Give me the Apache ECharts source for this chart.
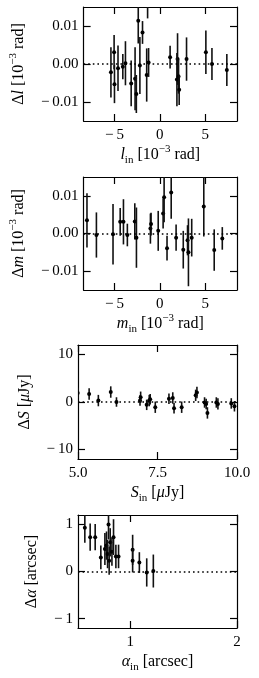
<!DOCTYPE html>
<html><head><meta charset="utf-8">
<script src="https://cdn.jsdelivr.net/npm/echarts@6/dist/echarts.min.js"></script>
<style>html,body{margin:0;padding:0;background:#fff}#c{width:259px;height:678px}</style>
</head><body><div id="c"></div>
<script>
// Panel 1: Δl vs l_in
const p1X = [-5.39,-5.04,-5.0,-4.61,-4.08,-3.79,-3.16,-2.73,-2.59,-2.38,-1.91,-2.2,-1.45,-1.24,-1.35,1.13,1.95,1.88,2.06,2.13,2.94,5.07,5.74,7.38];
const p1Y = [-0.0022,0.0031,-0.0053,-0.0011,-0.0007,0.0002,-0.0051,-0.0039,-0.0079,0.0114,0.0083,-0.0004,-0.0029,0.0004,0.019,0.0018,0.0013,-0.0041,-0.0033,-0.0068,0.0013,0.0031,0.0,-0.0016];
const p1E = [0.0066,0.0045,0.005,0.006,0.0033,0.0058,0.006,0.0083,0.005,0.006,0.003,0.0075,0.007,0.0038,0.007,0.003,0.0068,0.007,0.0045,0.004,0.0057,0.0057,0.0042,0.0042];
// Panel 2: Δm vs m_in
const p2X = [-8.03,-6.99,-5.16,-4.37,-4.01,-3.58,-2.76,-2.58,-1.04,-0.97,-0.18,0.36,0.47,1.25,0.79,1.79,2.58,3.05,3.15,3.51,4.84,5.99,6.88];
const p2Y = [0.0035,-0.0004,-0.0002,0.0031,0.0031,-0.0004,0.0032,-0.0011,0.0013,0.0025,0.0007,0.0053,0.0096,0.0109,-0.0039,-0.0011,-0.0043,-0.0018,-0.005,-0.0011,0.0072,-0.0044,-0.0013];
const p2E = [0.0072,0.006,0.008,0.0037,0.006,0.003,0.0048,0.008,0.004,0.003,0.0053,0.004,0.0066,0.007,0.0033,0.0035,0.005,0.004,0.009,0.005,0.008,0.0055,0.003];
// Panel 3: ΔS vs S_in
const p3X = [4.99,5.35,5.64,6.03,6.21,6.95,6.97,7.16,7.24,7.27,7.43,7.86,7.98,8.02,8.26,8.7,8.74,8.98,9.03,9.07,9.35,9.4,9.82,9.92];
const p3Y = [1.9,1.7,0.3,2.1,0.0,0.3,1.0,-0.6,0.3,0.6,-1.1,0.7,0.85,-1.3,-1.1,1.4,2.0,-0.1,-0.4,-2.3,-0.1,-0.4,-0.3,-0.9];
const p3E = [1.1,1.2,1.2,1.2,1.0,1.1,1.2,1.1,1.2,1.1,1.2,1.1,1.2,1.1,1.2,1.2,1.2,1.1,1.1,1.2,1.1,1.2,1.1,1.1];
// Panel 4: Δα vs α_in
const p4X = [0.574,0.624,0.671,0.724,0.762,0.777,0.787,0.796,0.802,0.812,0.828,0.843,0.865,0.89,1.022,1.022,1.085,1.154,1.216];
const p4Y = [0.93,0.73,0.73,0.30,0.48,0.55,0.37,1.0,0.23,0.62,0.42,0.73,0.32,0.32,0.46,0.23,0.19,-0.02,0.01];
const p4E = [0.32,0.29,0.28,0.25,0.34,0.3,0.3,0.32,0.3,0.3,0.3,0.38,0.25,0.25,0.32,0.25,0.22,0.3,0.35];

const xTicks = [[-5,0,5],[-5,0,5],[5,7.5,10],[1,2]];
const yTicks = [[-0.01,0,0.01],[-0.01,0,0.01],[-10,0,10],[-1,0,1]];
const xRanges = [[-8.4,8.5],[-8.4,8.5],[5,10],[0.51,2.0]];
const yRanges = [[-0.015,0.015],[-0.015,0.015],[-12,12],[-1.2,1.2]];
const xNames = ['{it|l}{sub|in} [10{sup|−3} rad]','{it|m}{sub|in} [10{sup|−3} rad]','{it|S}{sub|in} [{it|μ}Jy]','{it|α}{sub|in} [arcsec]'];
const yNames = ['Δ{it|l} [10{sup|−3} rad]','Δ{it|m} [10{sup|−3} rad]','Δ{it|S} [{it|μ}Jy]','Δ{it|α} [arcsec]'];
const xFmt = [v=>fmtInt(v), v=>fmtInt(v), v=>fmtNum(v,1), v=>fmtInt(v)];
const yFmt = [v=>fmtNum(v,2), v=>fmtNum(v,2), v=>fmtInt(v), v=>fmtInt(v)];
const panels = [[p1X,p1Y,p1E],[p2X,p2Y,p2E],[p3X,p3Y,p3E],[p4X,p4Y,p4E]];

function fmtNum(v,d){ return (v<0?'−\u2009':'') + Math.abs(v).toFixed(d); }
function fmtInt(v){ return (v<0?'−\u2009':'') + Math.abs(Math.round(v)); }

const FONT = 'Liberation Serif';
const gridTops = [7,177,345,515];
const gridH = [114,113,114,113];
const yGaps = [49,49,35,22];
const rich = {
  it:{fontStyle:'italic',fontFamily:FONT,fontSize:16,color:'#000'},
  sub:{fontFamily:FONT,fontSize:11,verticalAlign:'bottom',lineHeight:16,color:'#000'},
  sup:{fontFamily:FONT,fontSize:11,verticalAlign:'top',lineHeight:13,color:'#000'}
};

const grid=[], xAxis=[], yAxis=[], series=[];
for(let i=0;i<4;i++){
  grid.push({left:78, width:159, top:gridTops[i], height:gridH[i], show:false});
  const common = {type:'value', gridIndex:i, splitLine:{show:false},
    axisLine:{show:true,onZero:false,lineStyle:{color:'#000',width:1.2}},
    axisTick:{show:true,inside:true,length:7,lineStyle:{color:'#000',width:1.2}}};
  xAxis.push(Object.assign({}, common, {position:'bottom', min:xRanges[i][0], max:xRanges[i][1],
    axisTick:Object.assign({},common.axisTick,{customValues:xTicks[i]}),
    axisLabel:{show:true, customValues:xTicks[i], formatter:xFmt[i], margin:7, fontFamily:FONT, fontSize:15, color:'#000'},
    name:xNames[i], nameLocation:'middle', nameGap:23,
    nameTextStyle:{fontFamily:FONT,fontSize:16,color:'#000',lineHeight:22,rich:rich}}));
  xAxis.push(Object.assign({}, common, {position:'top', min:xRanges[i][0], max:xRanges[i][1],
    axisTick:Object.assign({},common.axisTick,{customValues:xTicks[i]}),
    axisLabel:{show:false}}));
  yAxis.push(Object.assign({}, common, {position:'left', min:yRanges[i][0], max:yRanges[i][1],
    axisTick:Object.assign({},common.axisTick,{customValues:yTicks[i]}),
    axisLabel:{show:true, customValues:yTicks[i], formatter:yFmt[i], margin:5, fontFamily:FONT, fontSize:15, color:'#000'},
    name:yNames[i], nameLocation:'middle', nameGap:yGaps[i], nameRotate:90,
    nameTextStyle:{fontFamily:FONT,fontSize:16,color:'#000',lineHeight:22,rich:rich}}));
  yAxis.push(Object.assign({}, common, {position:'right', min:yRanges[i][0], max:yRanges[i][1],
    axisTick:Object.assign({},common.axisTick,{customValues:yTicks[i]}),
    axisLabel:{show:false}}));
  const d = panels[i][0].map((x,k)=>[x, panels[i][1][k], panels[i][2][k]]);
  series.push({type:'custom', xAxisIndex:2*i, yAxisIndex:2*i, clip:true, data:d, silent:true,
    renderItem:function(params, api){
      const x=api.value(0), y=api.value(1), e=api.value(2);
      const t=api.coord([x,y+e]), b=api.coord([x,y-e]), c=api.coord([x,y]);
      return {type:'group', children:[
        {type:'line', shape:{x1:t[0],y1:t[1],x2:b[0],y2:b[1]}, style:{stroke:'#111',lineWidth:1.6}},
        {type:'circle', shape:{cx:c[0],cy:c[1],r:2}, style:{fill:'#000'}}
      ]};
    },
    markLine:{silent:true, symbol:'none', label:{show:false}, animation:false,
      lineStyle:{color:'#000', width:1.6, type:[1.6,3]}, data:[{yAxis:0}]},
    z:3});
}
const chart = echarts.init(document.getElementById('c'), null, {renderer:'canvas'});
chart.setOption({animation:false, grid, xAxis, yAxis, series});
</script></body></html>
